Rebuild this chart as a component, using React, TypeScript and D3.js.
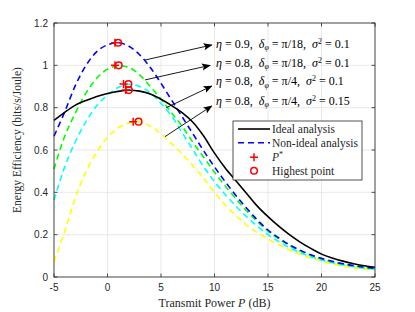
import React, { useRef, useEffect } from "react";
import * as d3 from "d3";

// transmit power (dB)
const power = [-5, -4, -3, -2, -1, 0, 1, 2, 3, 4, 5, 6, 7, 8, 9, 10, 11, 12, 13, 14, 15, 16, 17, 18, 19, 20, 21, 22, 23, 24, 25];

// energy efficiency (bits/s/Joule)
const idealEE = [0.74, 0.778, 0.812, 0.834, 0.853, 0.867, 0.877, 0.882, 0.878, 0.865, 0.84, 0.81, 0.775, 0.73, 0.665, 0.585, 0.515, 0.455, 0.395, 0.335, 0.285, 0.24, 0.2, 0.165, 0.135, 0.108, 0.09, 0.075, 0.063, 0.053, 0.046];
const eta09EE = [0.665, 0.78, 0.905, 1.0, 1.065, 1.097, 1.107, 1.09, 1.05, 0.99, 0.915, 0.835, 0.755, 0.675, 0.595, 0.52, 0.45, 0.385, 0.325, 0.27, 0.222, 0.185, 0.152, 0.127, 0.105, 0.088, 0.074, 0.063, 0.054, 0.047, 0.041];
const eta08EE = [0.51, 0.665, 0.775, 0.87, 0.94, 0.982, 0.998, 0.99, 0.955, 0.9, 0.84, 0.775, 0.71, 0.635, 0.565, 0.495, 0.43, 0.37, 0.312, 0.262, 0.217, 0.18, 0.149, 0.123, 0.102, 0.085, 0.071, 0.06, 0.052, 0.045, 0.039];
const pi4EE = [0.364, 0.52, 0.64, 0.735, 0.81, 0.86, 0.895, 0.91, 0.9, 0.87, 0.82, 0.76, 0.68, 0.6, 0.52, 0.45, 0.39, 0.335, 0.285, 0.24, 0.2, 0.167, 0.139, 0.115, 0.096, 0.08, 0.067, 0.057, 0.049, 0.042, 0.037];
const sigma15EE = [0.072, 0.215, 0.375, 0.5, 0.59, 0.66, 0.705, 0.728, 0.733, 0.713, 0.675, 0.63, 0.58, 0.525, 0.465, 0.4, 0.34, 0.29, 0.245, 0.21, 0.18, 0.152, 0.128, 0.107, 0.09, 0.075, 0.062, 0.052, 0.044, 0.037, 0.032];

// peaks: P* (plus) and highest point (circle)
const pStarPower = [0.7, 0.7, 1.5, 1.7, 2.4];
const highPower = [1.0, 1.05, 1.95, 2.0, 2.9];
const peakEE = [1.107, 1.0, 0.912, 0.883, 0.734];

// annotations
const etaLabels = ["0.9", "0.8", "0.8", "0.8"];
const deltaLabels = ["π/18", "π/18", "π/4", "π/4"];
const sigmaLabels = ["0.1", "0.1", "0.1", "0.15"];
const labelEE = [1.104, 1.014, 0.926, 0.833];
const arrowFrom = [[3.5, 1.025], [3.5, 0.931], [5.5, 0.8], [5.37, 0.663]];
const arrowTo = [[9.74, 1.096], [9.58, 1.0], [9.74, 0.902], [9.74, 0.808]];

const xTicks = [-5, 0, 5, 10, 15, 20, 25];
const yTicks = [0, 0.2, 0.4, 0.6, 0.8, 1, 1.2];

const W = 415, H = 312;
const M = { left: 54, right: 40, top: 23, bottom: 35 };
const AXIS = "#262626";
const SERIF = "'Liberation Serif', 'DejaVu Serif', serif";
const SANS = "'Liberation Sans', Arial, sans-serif";

const App = () => {
  const svgRef = useRef<SVGSVGElement>(null);

  useEffect(() => {
    const svg = d3.select(svgRef.current);
    svg.selectAll("*").remove();

    //scales
    const x = d3.scaleLinear().domain([-5, 25]).range([M.left, W - M.right]);
    const y = d3.scaleLinear().domain([0, 1.2]).range([H - M.bottom, M.top]);
    const [x0, x1] = x.range();
    const [y0, y1] = y.range();

    svg.append("defs").append("marker")
      .attr("id", "arrow").attr("viewBox", "0 0 10 10")
      .attr("refX", 9).attr("refY", 5)
      .attr("markerWidth", 9).attr("markerHeight", 9)
      .attr("markerUnits", "userSpaceOnUse")
      .attr("orient", "auto")
      .append("path").attr("d", "M0,1 L10,5 L0,9 L2,5 Z").attr("fill", "#000");

    svg.append("rect").attr("x", x0).attr("y", y1).attr("width", x1 - x0).attr("height", y0 - y1).attr("fill", "#fff");

    //grid
    const grid = svg.append("g").attr("stroke", "#e3e3e3").attr("stroke-width", 0.8);
    xTicks.forEach((t) => grid.append("line").attr("x1", x(t)).attr("x2", x(t)).attr("y1", y0).attr("y2", y1));
    yTicks.forEach((t) => grid.append("line").attr("y1", y(t)).attr("y2", y(t)).attr("x1", x0).attr("x2", x1));

    //curves
    const series = [
      { v: sigma15EE, c: "#ffff00", dash: true },
      { v: pi4EE, c: "#00ffff", dash: true },
      { v: eta08EE, c: "#00ff00", dash: true },
      { v: eta09EE, c: "#0000ff", dash: true },
      { v: idealEE, c: "#000000", dash: false },
    ];
    const myLine = d3.line<number>()
      .x((d, i) => x(power[i]))
      .y((d) => y(d))
      .curve(d3.curveCatmullRom);
    series.forEach((s) => {
      svg.append("path")
        .attr("d", myLine(s.v))
        .attr("fill", "none")
        .attr("stroke", s.c)
        .attr("stroke-width", 1.6)
        .attr("stroke-dasharray", s.dash ? "6,4" : null);
    });

    //peak markers
    const plus = (g, cx, cy) => {
      g.append("path").attr("d", `M${cx - 4},${cy}H${cx + 4}M${cx},${cy - 4}V${cy + 4}`)
        .attr("stroke", "#ff0000").attr("stroke-width", 1.5).attr("fill", "none");
    };
    const ring = (g, cx, cy) => {
      g.append("circle").attr("cx", cx).attr("cy", cy).attr("r", 3.3)
        .attr("stroke", "#ff0000").attr("stroke-width", 1.5).attr("fill", "none");
    };
    const marks = svg.append("g");
    peakEE.forEach((v, i) => {
      plus(marks, x(pStarPower[i]), y(v));
      ring(marks, x(highPower[i]), y(v));
    });

    //arrows and labels
    arrowFrom.forEach((p, i) => {
      svg.append("line")
        .attr("x1", x(p[0])).attr("y1", y(p[1]))
        .attr("x2", x(arrowTo[i][0])).attr("y2", y(arrowTo[i][1]))
        .attr("stroke", "#000").attr("stroke-width", 0.9)
        .attr("marker-end", "url(#arrow)");
    });
    labelEE.forEach((v, i) => {
      const t = svg.append("text")
        .attr("x", x(10.15)).attr("y", y(v)).attr("dy", "0.35em")
        .attr("font-family", SERIF).attr("font-size", 12).attr("fill", "#000");
      t.append("tspan").attr("font-style", "italic").text("η");
      t.append("tspan").text(` = ${etaLabels[i]},\u2002`);
      t.append("tspan").attr("font-style", "italic").text("δ");
      t.append("tspan").attr("font-style", "italic").attr("font-size", 8).attr("dy", 2.5).text("φ");
      t.append("tspan").attr("dy", -2.5).text(` = ${deltaLabels[i]},\u2002`);
      t.append("tspan").attr("font-style", "italic").text("σ");
      t.append("tspan").attr("font-size", 8).attr("dy", -4).text("2");
      t.append("tspan").attr("dy", 4).text(` = ${sigmaLabels[i]}`);
    });

    //axes box + ticks
    const axes = svg.append("g").attr("stroke", AXIS).attr("stroke-width", 0.8).attr("fill", "none");
    axes.append("rect").attr("x", x0).attr("y", y1).attr("width", x1 - x0).attr("height", y0 - y1);
    xTicks.forEach((t) => {
      axes.append("line").attr("x1", x(t)).attr("x2", x(t)).attr("y1", y0).attr("y2", y0 - 3.5);
      axes.append("line").attr("x1", x(t)).attr("x2", x(t)).attr("y1", y1).attr("y2", y1 + 3.5);
    });
    yTicks.forEach((t) => {
      axes.append("line").attr("y1", y(t)).attr("y2", y(t)).attr("x1", x0).attr("x2", x0 + 3.5);
      axes.append("line").attr("y1", y(t)).attr("y2", y(t)).attr("x1", x1).attr("x2", x1 - 3.5);
    });

    svg.append("g").selectAll("text").data(xTicks).join("text")
      .attr("x", (d) => x(d)).attr("y", y0 + 14)
      .attr("text-anchor", "middle")
      .attr("font-family", SANS).attr("font-size", 10).attr("fill", AXIS)
      .text((d) => d);
    svg.append("g").selectAll("text").data(yTicks).join("text")
      .attr("x", x0 - 6).attr("y", (d) => y(d)).attr("dy", "0.35em")
      .attr("text-anchor", "end")
      .attr("font-family", SANS).attr("font-size", 10).attr("fill", AXIS)
      .text((d) => d);

    //axis labels
    const xl = svg.append("text")
      .attr("x", (x0 + x1) / 2).attr("y", H - 5)
      .attr("text-anchor", "middle")
      .attr("font-family", SERIF).attr("font-size", 12).attr("fill", AXIS);
    xl.append("tspan").text("Transmit Power ");
    xl.append("tspan").attr("font-style", "italic").text("P");
    xl.append("tspan").text(" (dB)");

    svg.append("text")
      .attr("transform", `translate(21,${(y0 + y1) / 2 - 10}) rotate(-90)`)
      .attr("text-anchor", "middle")
      .attr("font-family", SERIF).attr("font-size", 11.5).attr("fill", AXIS)
      .text("Energy Efficiency (bits/s/Joule)");

    //legend
    const lg = svg.append("g").attr("transform", "translate(233,121)");
    lg.append("rect").attr("width", 129).attr("height", 59)
      .attr("fill", "#fff").attr("stroke", AXIS).attr("stroke-width", 0.8);
    const rows = [8, 21.7, 36.3, 49.7];
    lg.append("line").attr("x1", 5).attr("x2", 37).attr("y1", rows[0]).attr("y2", rows[0])
      .attr("stroke", "#000").attr("stroke-width", 1.6);
    lg.append("line").attr("x1", 5).attr("x2", 37).attr("y1", rows[1]).attr("y2", rows[1])
      .attr("stroke", "#0000ff").attr("stroke-width", 1.6).attr("stroke-dasharray", "6,4");
    plus(lg, 21, rows[2]);
    ring(lg, 21, rows[3]);
    const legendText = (row, build) => {
      const t = lg.append("text").attr("x", 39).attr("y", row).attr("dy", "0.35em")
        .attr("font-family", SERIF).attr("font-size", 11.5).attr("fill", AXIS);
      build(t);
    };
    legendText(rows[0], (t) => t.text("Ideal analysis"));
    legendText(rows[1], (t) => t.text("Non-ideal analysis"));
    legendText(rows[2], (t) => {
      t.append("tspan").attr("font-style", "italic").text("P");
      t.append("tspan").attr("font-size", 8).attr("dy", -4).text("*");
    });
    legendText(rows[3], (t) => t.text("Highest point"));
  }, []);

  return (
    <svg ref={svgRef} width={W} height={H}
      style={{ position: "absolute", left: 0, top: 0, background: "#fff" }} />
  );
};

export default App;
